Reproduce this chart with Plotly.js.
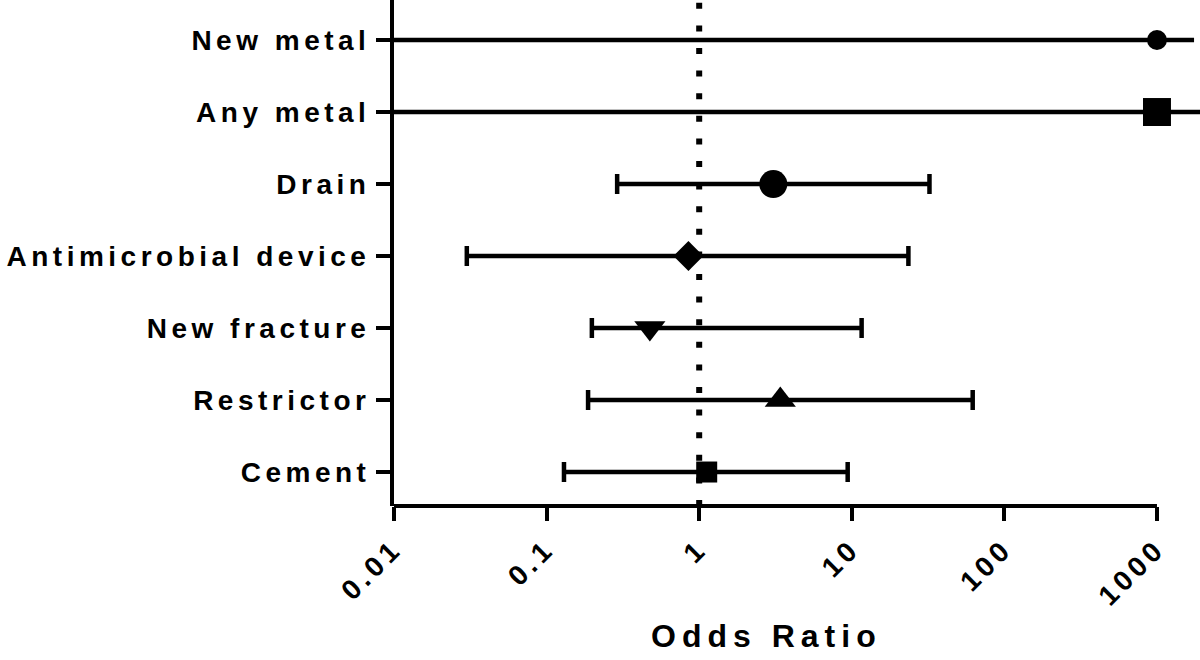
<!DOCTYPE html>
<html>
<head>
<meta charset="utf-8">
<script src="https://cdn.plot.ly/plotly-3.0.1.min.js"></script>
<style>
  body { margin: 0; background: #fff; }
  #plotArea { width: 1200px; height: 660px; }
  .xtick text, .ytick text { letter-spacing: 4.5px; }
  .annotation-text { letter-spacing: 6px; }
</style>
</head>
<body>
<div id="plotArea"></div>
<script>
// Rows of the forest plot, top to bottom
var categories = ["New metal", "Any metal", "Drain", "Antimicrobial device", "New fracture", "Restrictor", "Cement"];
var oddsRatio = [1000, 1000, 3.06, 0.85, 0.475, 3.4, 1.12];
var ciLower = [0.005, 0.005, 0.29, 0.030, 0.198, 0.187, 0.13];
var ciUpper = [1750, 3000, 32.3, 23.5, 11.6, 62, 9.4];

var xTicks = [0.01, 0.1, 1, 10, 100, 1000];
var xTickText = ["0.01", "0.1", "1", "10", "100", "1000"];

// marker looks for each row
var markerSymbols = ["circle", "square", "circle", "diamond", "triangle-down", "triangle-up", "square"];
var markerSizes = [20, 28, 28, 23, 27, 27, 21];
var capWidths = [0, 0, 10, 10, 10, 10, 10];

var data = categories.map(function(cat, i) {
    return {
        x: [oddsRatio[i]],
        y: [cat],
        type: "scatter",
        mode: "markers",
        marker: {symbol: markerSymbols[i], size: markerSizes[i], color: "#000"},
        error_x: {
            type: "data",
            symmetric: false,
            array: [ciUpper[i] - oddsRatio[i]],
            arrayminus: [oddsRatio[i] - ciLower[i]],
            color: "#000",
            thickness: 4.5,
            width: capWidths[i]
        },
        showlegend: false,
        hoverinfo: "x+y"
    };
});

var tickFont = {family: "Liberation Sans, Arial, sans-serif", size: 28, color: "#000", weight: "bold"};

var layout = {
    width: 1200,
    height: 660,
    margin: {l: 394, r: 0, t: 0, b: 154},
    paper_bgcolor: "#fff",
    plot_bgcolor: "#fff",
    xaxis: {
        type: "log",
        range: [-2, 3.282],
        tickmode: "array",
        tickvals: xTicks,
        ticktext: xTickText,
        tickangle: -45,
        ticks: "outside",
        ticklen: 14,
        tickwidth: 4,
        tickcolor: "#000",
        showgrid: false,
        zeroline: false,
        showline: false,
        tickfont: tickFont
    },
    yaxis: {
        type: "category",
        categoryorder: "array",
        categoryarray: categories,
        range: [6.472, -0.556],
        ticks: "outside",
        ticklen: 14,
        tickwidth: 4,
        tickcolor: "#000",
        showline: true,
        linewidth: 4,
        linecolor: "#000",
        showgrid: false,
        zeroline: false,
        tickfont: tickFont
    },
    shapes: [
        // x axis line only spans 0.01 .. 1000
        {type: "line", xref: "x", yref: "paper", x0: 0.01, x1: 1000, y0: 0, y1: 0,
         line: {color: "#000", width: 4}},
        // reference line at OR = 1
        {type: "line", xref: "x", yref: "paper", x0: 1, x1: 1, y0: 0, y1: 1, layer: "below",
         line: {color: "#000", width: 6, dash: "6px,16.6px"}}
    ],
    annotations: [
        {text: "Odds Ratio", xref: "paper", yref: "paper", x: 0.462, y: -0.257,
         xanchor: "center", yanchor: "middle", showarrow: false,
         font: {family: "Liberation Sans, Arial, sans-serif", size: 32, color: "#000", weight: "bold"}}
    ]
};

Plotly.newPlot("plotArea", data, layout, {displayModeBar: false, staticPlot: true});
</script>
</body>
</html>
